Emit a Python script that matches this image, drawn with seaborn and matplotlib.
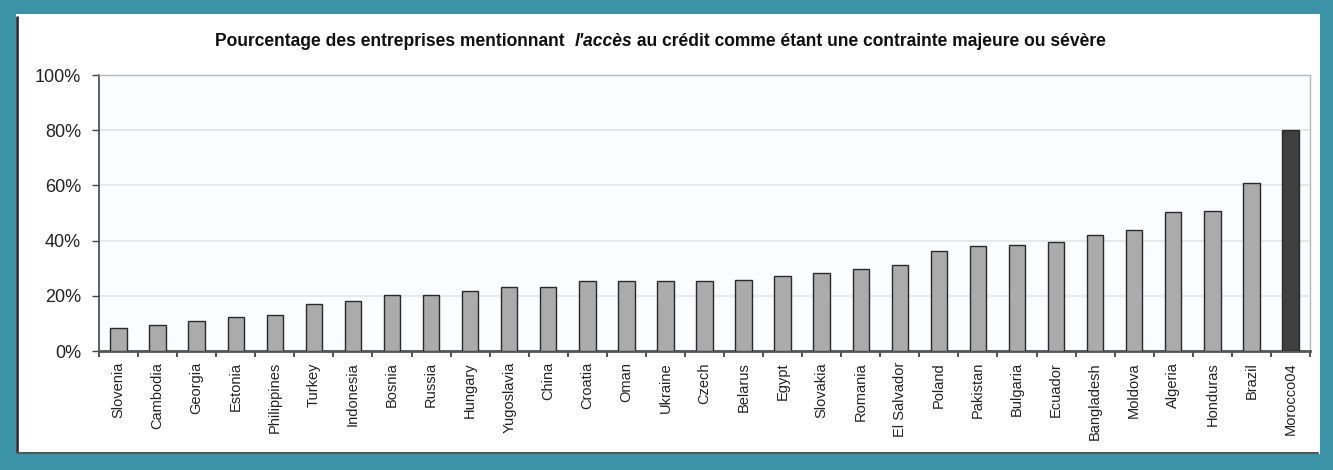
import matplotlib
matplotlib.use("Agg")
import matplotlib.pyplot as plt
import seaborn as sns
import pandas as pd
from matplotlib.patches import Rectangle
from matplotlib.ticker import FixedLocator, PercentFormatter

countries = ["Slovenia", "Cambodia", "Georgia", "Estonia", "Philippines", "Turkey",
             "Indonesia", "Bosnia", "Russia", "Hungary", "Yugoslavia", "China",
             "Croatia", "Oman", "Ukraine", "Czech", "Belarus", "Egypt", "Slovakia",
             "Romania", "El Salvador", "Poland", "Pakistan", "Bulgaria", "Ecuador",
             "Bangladesh", "Moldova", "Algeria", "Honduras", "Brazil", "Morocco04"]
values = [8.5, 9.5, 11, 12.5, 13, 17.2, 18, 20.2, 20.2, 21.8, 23.1, 23.1,
          25.3, 25.3, 25.3, 25.3, 25.8, 27, 28.3, 29.6, 31.2, 36.2, 37.9, 38.5,
          39.4, 41.9, 43.7, 50.4, 50.7, 60.9, 80]
highlight = "Morocco04"
yticks = [0, 20, 40, 60, 80, 100]
title_parts = ["Pourcentage des entreprises mentionnant  ", "l'accès",
               " au crédit comme étant une contrainte majeure ou sévère"]

sns.set_style("white")
plt.rcParams["font.family"] = ["Liberation Sans", "DejaVu Sans"]

W, H = 1333, 470
fig = plt.figure(figsize=(W / 100, H / 100), dpi=100)
fig.patch.set_facecolor("#3b93a8")

# white panel
fig.patches.append(Rectangle((16 / W, 1 - 454 / H), (1320 - 16) / W, (454 - 14) / H,
                             transform=fig.transFigure, facecolor="white",
                             edgecolor="none", zorder=-2))
fig.lines.append(plt.Line2D([17 / W, 17 / W], [1 - 452 / H, 1 - 17 / H],
                            transform=fig.transFigure, color="#333333", lw=2, zorder=-1))
fig.lines.append(plt.Line2D([17 / W, 1318 / W], [1 - 453 / H, 1 - 453 / H],
                            transform=fig.transFigure, color="#555555", lw=1.5, zorder=-1))

ax = fig.add_axes([99 / W, 1 - 351 / H, (1310 - 99) / W, (351 - 75) / H])
ax.set_zorder(1)
ax.set_facecolor("#fbfcfd")

df = pd.DataFrame({"country": countries, "value": values})
palette = {c: ("#3f3f3f" if c == highlight else "#ababab") for c in countries}
sns.barplot(data=df, x="country", y="value", hue="country", palette=palette,
            legend=False, width=0.42, edgecolor="#2a2a2a", linewidth=1.0,
            saturation=1, ax=ax, zorder=3)

ax.set_xlim(-0.5, len(countries) - 0.5)
ax.set_ylim(0, 100)
ax.set_yticks(yticks)
ax.yaxis.set_major_formatter(PercentFormatter(decimals=0))
ax.grid(axis="y", color="#e4e4e4", lw=1.2, zorder=0)
ax.set_axisbelow(True)
ax.set_xlabel("")
ax.set_ylabel("")

for s in ["top", "right"]:
    ax.spines[s].set_color("#b8b8b8")
    ax.spines[s].set_linewidth(1.0)
ax.spines["left"].set_color("#444444")
ax.spines["left"].set_linewidth(1.2)
ax.spines["bottom"].set_color("#555555")
ax.spines["bottom"].set_linewidth(2.0)

ax.tick_params(axis="y", direction="out", length=5, width=1, color="#444444",
               labelsize=13, labelcolor="#222222", pad=8, left=True)
ax.tick_params(axis="x", which="major", length=0, pad=8, labelsize=10.5,
               labelcolor="#222222", labelrotation=90, bottom=True)
ax.xaxis.set_minor_locator(FixedLocator([i + 0.5 for i in range(-1, len(countries))]))
ax.tick_params(axis="x", which="minor", direction="out", length=4, width=1.2,
               color="#333333", bottom=True)
for lab in ax.get_xticklabels():
    lab.set_va("top")
    lab.set_ha("center")

# title in three pieces (italic middle part)
renderer = fig.canvas.get_renderer()
styles = ["normal", "italic", "normal"]
fs = 10.5
texts = []
for part, st in zip(title_parts, styles):
    t = fig.text(0, 0, part, fontsize=fs, fontweight="bold", style=st, color="#111111")
    texts.append(t)
widths = [t.get_window_extent(renderer).width for t in texts]
scale = (1113 - 215) / sum(widths)
for t in texts:
    t.set_fontsize(fs * scale)
widths = [t.get_window_extent(renderer).width for t in texts]
x = 215
for t, w in zip(texts, widths):
    t.set_position((x / W, 1 - 41 / H))
    t.set_va("center")
    x += w

fig.savefig("out.png", dpi=100, facecolor=fig.get_facecolor())
